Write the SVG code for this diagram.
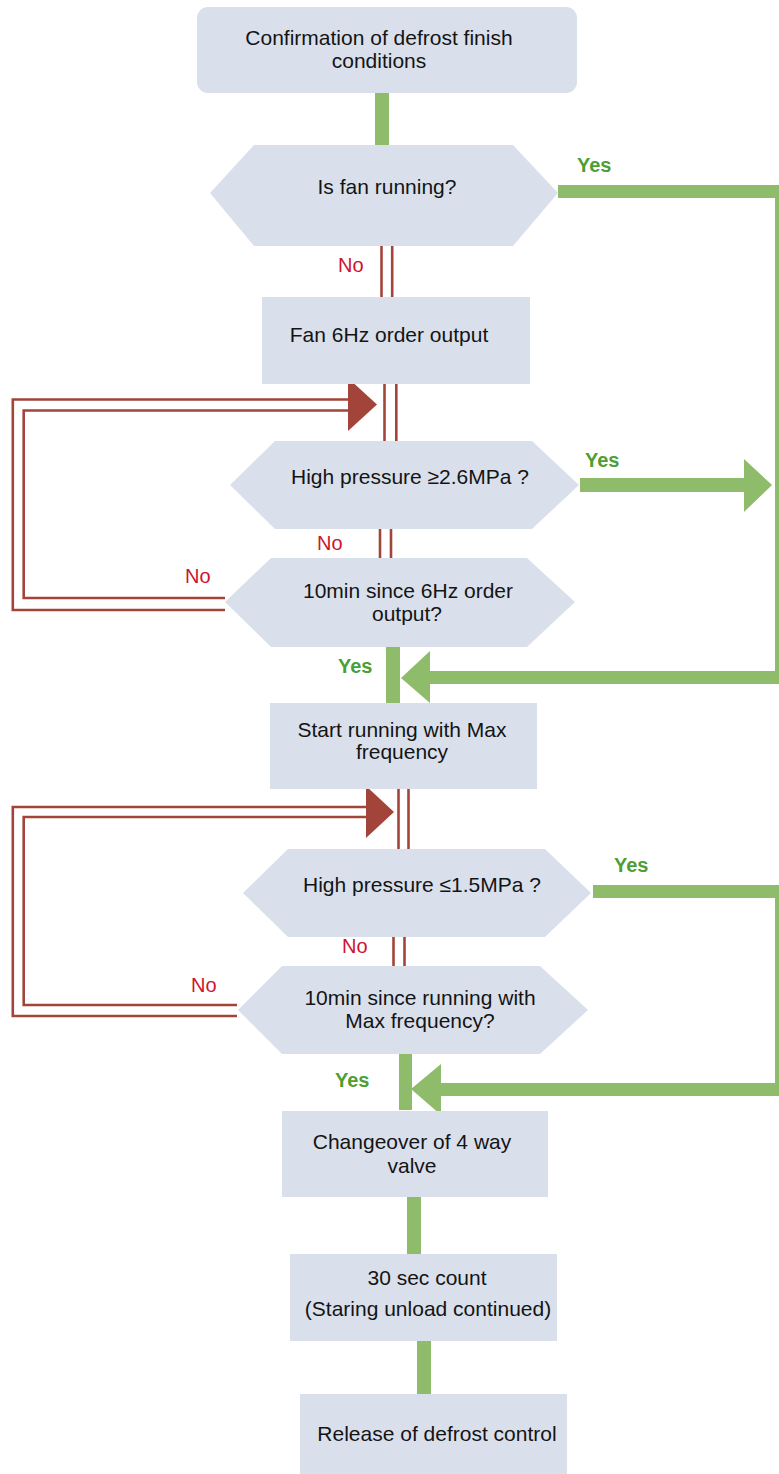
<svg xmlns="http://www.w3.org/2000/svg" width="779" height="1474" viewBox="0 0 779 1474">
<defs>
<style>
.node{fill:#d9e0ec;}
.t{font-family:"Liberation Sans",Arial,sans-serif;font-size:21px;fill:#141414;text-anchor:middle;}
.yes{font-family:"Liberation Sans",Arial,sans-serif;font-size:20px;font-weight:bold;fill:#4c9f32;}
.no{font-family:"Liberation Sans",Arial,sans-serif;font-size:20px;fill:#cf1430;}
.g{fill:#8ebc6b;}
.r{stroke:#a3443a;stroke-width:2.6;fill:none;}
.rf{fill:#a3443a;}
</style>
</defs>
<rect width="779" height="1474" fill="#ffffff"/>
<g id="connectors">
<rect class="g" x="375" y="93" width="14" height="52"/>
<rect class="g" x="558" y="185" width="221" height="13"/>
<rect class="g" x="775" y="185" width="4" height="499"/>
<rect class="g" x="430" y="671" width="349" height="13"/>
<polygon class="g" points="401,678 430,651 430,703"/>
<rect class="g" x="580" y="478" width="164" height="14"/>
<polygon class="g" points="744,459 772,485 744,512"/>
<rect class="g" x="386" y="647" width="14" height="56"/>
<rect class="g" x="593" y="885" width="186" height="13"/>
<rect class="g" x="775" y="885" width="4" height="211"/>
<rect class="g" x="441" y="1083" width="338" height="13"/>
<polygon class="g" points="411,1089 441,1064 441,1115"/>
<rect class="g" x="399" y="1054" width="13" height="56"/>
<rect class="g" x="407" y="1197" width="14" height="57"/>
<rect class="g" x="417" y="1341" width="14" height="53"/>
<line class="r" x1="381.5" y1="246" x2="381.5" y2="297"/>
<line class="r" x1="392.2" y1="246" x2="392.2" y2="297"/>
<line class="r" x1="384.5" y1="384" x2="384.5" y2="441"/>
<line class="r" x1="396.3" y1="384" x2="396.3" y2="441"/>
<line class="r" x1="380" y1="529" x2="380" y2="558"/>
<line class="r" x1="391" y1="529" x2="391" y2="558"/>
<polyline class="r" points="225,610 12.8,610 12.8,399.5 350,399.5"/>
<polyline class="r" points="225,598 23.7,598 23.7,410.5 350,410.5"/>
<polygon class="rf" points="348,378 377,404.5 348,431"/>
<line class="r" x1="398.5" y1="789" x2="398.5" y2="849"/>
<line class="r" x1="408.5" y1="789" x2="408.5" y2="849"/>
<polyline class="r" points="237,1016 12.8,1016 12.8,807 368,807"/>
<polyline class="r" points="237,1005 23.7,1005 23.7,817 368,817"/>
<polygon class="rf" points="366,786 394,812 366,838"/>
<line class="r" x1="393.5" y1="937" x2="393.5" y2="966"/>
<line class="r" x1="404.5" y1="937" x2="404.5" y2="966"/>
<text class="yes" x="577" y="172">Yes</text>
<text class="no" x="338" y="272">No</text>
<text class="yes" x="585" y="467">Yes</text>
<text class="no" x="317" y="550">No</text>
<text class="no" x="185" y="583">No</text>
<text class="yes" x="338" y="673">Yes</text>
<text class="yes" x="614" y="872">Yes</text>
<text class="no" x="342" y="953">No</text>
<text class="no" x="191" y="992">No</text>
<text class="yes" x="335" y="1087">Yes</text>
</g>
<g id="start">
<rect class="node" x="197" y="7" width="380" height="86" rx="11"/>
<text class="t" x="379" y="45">Confirmation of defrost finish</text>
<text class="t" x="379" y="68">conditions</text>
</g>
<g id="fan-running">
<polygon class="node" points="210,193 254,145 513,145 558,193 513,246 254,246"/>
<text class="t" x="387" y="194">Is fan running?</text>
</g>
<g id="fan-6hz">
<rect class="node" x="262" y="297" width="268" height="87"/>
<text class="t" x="389" y="342">Fan 6Hz order output</text>
</g>
<g id="hp-26">
<polygon class="node" points="230,485 275,441 532,441 579,485 532,529 275,529"/>
<text class="t" x="410" y="484">High pressure ≥2.6MPa ?</text>
</g>
<g id="wait-6hz">
<polygon class="node" points="225,602 271,558 527,558 575,602 527,647 271,647"/>
<text class="t" x="408" y="598">10min since 6Hz order</text>
<text class="t" x="407" y="621">output?</text>
</g>
<g id="max-freq">
<rect class="node" x="270" y="703" width="267" height="86"/>
<text class="t" x="402" y="737">Start running with Max</text>
<text class="t" x="402" y="759">frequency</text>
</g>
<g id="hp-15">
<polygon class="node" points="243,893 288,849 545,849 591,893 545,937 288,937"/>
<text class="t" x="422" y="892">High pressure ≤1.5MPa ?</text>
</g>
<g id="wait-max">
<polygon class="node" points="238,1010 282,966 540,966 588,1010 540,1054 282,1054"/>
<text class="t" x="420" y="1005">10min since running with</text>
<text class="t" x="420" y="1028">Max frequency?</text>
</g>
<g id="valve">
<rect class="node" x="282" y="1111" width="266" height="86"/>
<text class="t" x="412" y="1149">Changeover of 4 way</text>
<text class="t" x="412" y="1173">valve</text>
</g>
<g id="count">
<rect class="node" x="290" y="1254" width="267" height="87"/>
<text class="t" x="427" y="1285">30 sec count</text>
<text class="t" x="428" y="1316">(Staring unload continued)</text>
</g>
<g id="release">
<rect class="node" x="300" y="1394" width="267" height="80"/>
<text class="t" x="437" y="1441">Release of defrost control</text>
</g>
</svg>
